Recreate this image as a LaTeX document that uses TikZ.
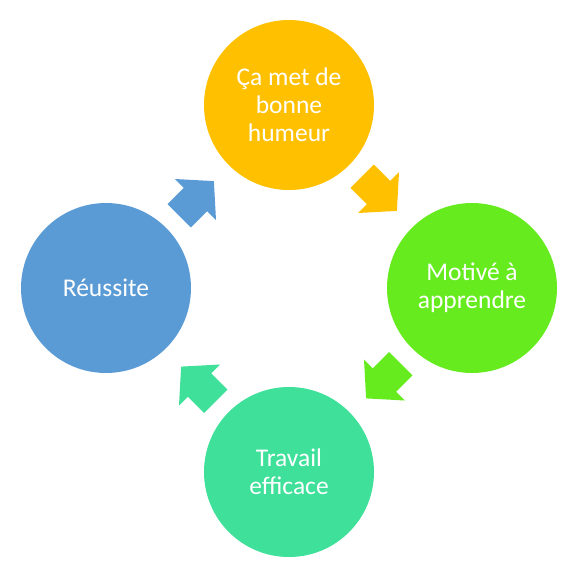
\documentclass[tikz,border=0pt]{standalone}
\usepackage{fontspec}
\setmainfont{Carlito}
\usetikzlibrary{calc}
\definecolor{cOrange}{HTML}{FFC000}
\definecolor{cGreen}{HTML}{66EB1F}
\definecolor{cTeal}{HTML}{3EE09A}
\definecolor{cBlue}{HTML}{5B9BD5}
\tikzset{
  bubble/.style={circle, minimum size=170pt, inner sep=0pt, text=white, align=center,
    font=\fontsize{25.5}{28}\selectfont},
  blockarrow/.pic={\fill (-23,-16.5) -- (0,-16.5) -- (0,-29) -- (26,0) -- (0,29) -- (0,16.5) -- (-23,16.5) -- cycle;}
}
\begin{document}
\begin{tikzpicture}[x=1pt,y=-1pt]
\useasboundingbox (0,0) rectangle (583,587);
\node[bubble, fill=cOrange] (top) at (289,105) {Ça met de\\bonne\\humeur};
\node[bubble, fill=cGreen] (right) at (472,288) {Motivé à\\apprendre};
\node[bubble, fill=cTeal] (bottom) at (289,472) {Travail\\efficace};
\node[bubble, fill=cBlue] (left) at (106,288) {Réussite};
\pic[fill=cOrange, rotate=-45] at ($(top)!0.5!(right)+(-2,-4)$) {blockarrow};
\pic[fill=cGreen, rotate=-135] at ($(right)!0.5!(bottom)+(4,0)$) {blockarrow};
\pic[fill=cTeal, rotate=135] at ($(bottom)!0.5!(left)+(2,5)$) {blockarrow};
\pic[fill=cBlue, rotate=45] at ($(left)!0.5!(top)+(-2,3)$) {blockarrow};
\end{tikzpicture}
\end{document}
